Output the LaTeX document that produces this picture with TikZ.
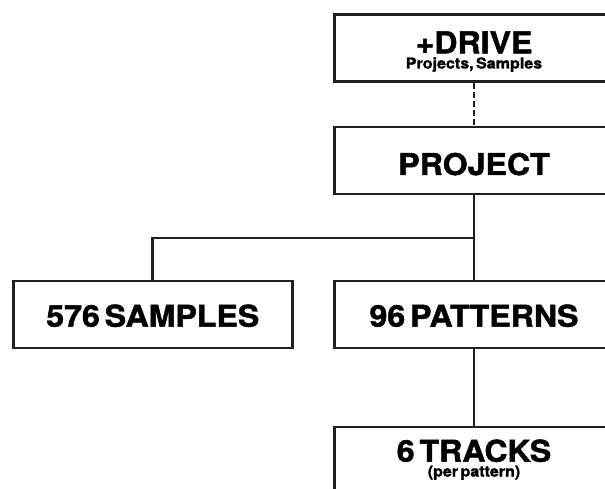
\documentclass[tikz,border=0pt]{standalone}
\usepackage{fontspec}
\setmainfont{TeX Gyre Heros}[BoldFeatures={FakeBold=1.5, WordSpace=0.55, FakeStretch=1.07}]
\definecolor{ln}{HTML}{231F20}
\tikzset{
  box/.style={draw=ln, line width=2.8pt, minimum width=279pt, minimum height=67pt, inner sep=0pt, fill=white},
  conn/.style={draw=ln, line width=2.8pt},
  dconn/.style={draw=ln, line width=2.8pt, dash pattern=on 6pt off 3pt},
  big/.style={font=\fontsize{30}{30}\selectfont\bfseries, anchor=base, inner sep=0pt, text=black},
  small/.style={font=\fontsize{15}{15}\selectfont\bfseries, anchor=base, inner sep=0pt, text=black}
}
\begin{document}
\begin{tikzpicture}[x=1pt, y=-1pt]
\useasboundingbox (0,0) rectangle (605,489);
\clip (0,0) rectangle (605,489);
% boxes
\node[box] (drive) at (474,48) {};
\node[box] (project) at (474,160.5) {};
\node[box] (samples) at (152.8,314.5) {};
\node[box] (patterns) at (474,314.5) {};
\node[box] (tracks) at (474,460.5) {};
% connectors
\coordinate (j) at (474,238);
\coordinate (jl) at (152.8,238);
\draw[dconn] (drive.south) -- (project.north);
\draw[conn] (project.south) -- (j) -- (patterns.north);
\draw[conn] (j) -- (jl) -- (samples.north);
\draw[conn] (patterns.south) -- (tracks.north);
% texts
\node[big] (driveT) at (474,53.3) {+DRIVE};
\node[small] (driveS) at (474,68.5) {Projects, Samples};
\node[big] (projectT) at (474,175) {PROJECT};
\node[big] (samplesT) at (152.8,326.7) {576 SAMPLES};
\node[big] (patternsT) at (474,326.7) {96 PATTERNS};
\node[big] (tracksT) at (474,461.7) {6 TRACKS};
\node[small] (tracksS) at (474,476.5) {(per pattern)};
\end{tikzpicture}
\end{document}
